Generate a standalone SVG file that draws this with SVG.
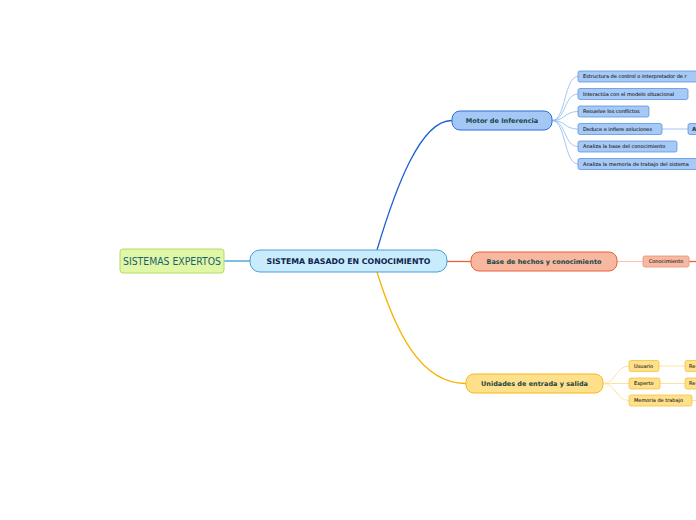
<svg xmlns="http://www.w3.org/2000/svg" width="696" height="520" viewBox="0 0 696 520">
<style>
text{font-family:"DejaVu Sans",Verdana,sans-serif;}
.main{font-size:6.5px;font-weight:bold;fill:#1a4646;}
.sm{font-size:5px;fill:#1a1a1a;stroke:#1a1a1a;stroke-width:0.08;}
.mc{fill:#a6c9f5;stroke:#5b94e0;stroke-width:0.8;}
.bc{fill:#f7b9a3;stroke:#e88f72;stroke-width:0.8;}
.uc{fill:#ffe08c;stroke:#f5c33a;stroke-width:0.8;}
.cm{fill:none;stroke:#8ab8ee;stroke-width:0.8;}
.cu{fill:none;stroke:#ffe4a0;stroke-width:1;}
</style>
<rect width="696" height="520" fill="#ffffff"/>
<g id="connectors" fill="none">
<path d="M224,261 L250,261" stroke="#3a9ad9" stroke-width="1.3"/>
<path d="M377,250 C395,190 420,120 452,120.5" stroke="#1a5fd6" stroke-width="1.3"/>
<path d="M447,261.5 L471,261.5" stroke="#e8603a" stroke-width="1.3"/>
<path d="M377,272 C395,330 420,384 466,383.5" stroke="#f5b400" stroke-width="1.3"/>
<path class="cm" d="M552,120.5 C566,120.5 564,76.5 578,76.5"/>
<path class="cm" d="M552,120.5 C566,120.5 564,94 578,94"/>
<path class="cm" d="M552,120.5 C566,120.5 564,111.5 578,111.5"/>
<path class="cm" d="M552,120.5 C566,120.5 564,129 578,129"/>
<path class="cm" d="M552,120.5 C566,120.5 564,146.5 578,146.5"/>
<path class="cm" d="M552,120.5 C566,120.5 564,164 578,164"/>
<path class="cm" d="M662,129 L688,129"/>
<path d="M617,261.5 L643,261.5" stroke="#f7c2b0" stroke-width="1"/>
<path d="M689,261.5 L696,261.5" stroke="#e8603a" stroke-width="1.3"/>
<path class="cu" d="M603,383.5 C616,383.5 616,366 629,366"/>
<path class="cu" d="M603,383.5 L629,383.5"/>
<path class="cu" d="M603,383.5 C616,383.5 616,400.5 629,400.5"/>
<path class="cu" d="M659,366 L685,366"/>
<path class="cu" d="M660,383.5 L685,383.5"/>
<path class="cu" d="M692,400.5 L696,400.5"/>
</g>
<g id="sistemas-expertos">
<rect x="120" y="249" width="104" height="24" rx="3" fill="#e0f7a6" stroke="#b5d96a" stroke-width="1"/>
<text x="172" y="264.5" text-anchor="middle" font-size="10" fill="#1b6070" textLength="98" lengthAdjust="spacingAndGlyphs">SISTEMAS EXPERTOS</text>
</g>
<g id="sistema-basado">
<rect x="250" y="250" width="197" height="22" rx="10" fill="#c8ecfb" stroke="#4a9fd8" stroke-width="1"/>
<text x="348.5" y="264" text-anchor="middle" font-size="7.8" font-weight="bold" fill="#10234a">SISTEMA BASADO EN CONOCIMIENTO</text>
</g>
<g id="motor">
<rect x="452" y="111" width="100" height="19" rx="8" fill="#a3c8f5" stroke="#2f6fd6" stroke-width="1"/>
<text x="502" y="123" text-anchor="middle" class="main">Motor de Inferencia</text>
</g>
<g id="base">
<rect x="471" y="252" width="146" height="19" rx="8" fill="#f8b8a0" stroke="#e8603a" stroke-width="1"/>
<text x="544" y="264" text-anchor="middle" class="main">Base de hechos y conocimiento</text>
</g>
<g id="unidades">
<rect x="466" y="374" width="137" height="19" rx="8" fill="#ffe08a" stroke="#f5b820" stroke-width="1"/>
<text x="534.5" y="386" text-anchor="middle" class="main">Unidades de entrada y salida</text>
</g>
<g id="m1"><rect class="mc" x="578" y="71" width="130" height="11" rx="2"/><text class="sm" x="583" y="78.3">Estructura de control o interpretador de r</text></g>
<g id="m2"><rect class="mc" x="578" y="88.5" width="110" height="11" rx="2"/><text class="sm" x="583" y="95.8">Interactúa con el modelo situacional</text></g>
<g id="m3"><rect class="mc" x="578" y="106" width="71" height="11" rx="2"/><text class="sm" x="583" y="113.3">Resuelve los conflictos</text></g>
<g id="m4"><rect class="mc" x="578" y="123.5" width="84" height="11" rx="2"/><text class="sm" x="583" y="130.8">Deduce e infiere soluciones</text></g>
<g id="m4a"><rect class="mc" x="688" y="123.5" width="30" height="11" rx="2"/><text x="692" y="131" font-size="5.5" font-weight="bold" fill="#1a3a3a">A</text></g>
<g id="m5"><rect class="mc" x="578" y="141" width="99" height="11" rx="2"/><text class="sm" x="583" y="148.3">Analiza la base del conocimiento</text></g>
<g id="m6"><rect class="mc" x="578" y="158.5" width="130" height="11" rx="2"/><text class="sm" x="583" y="165.8">Analiza la memoria de trabajo del sistema</text></g>
<g id="b1"><rect class="bc" x="643" y="256" width="46" height="11" rx="2"/><text class="sm" x="666" y="263.3" text-anchor="middle">Conocimiento</text></g>
<g id="u1"><rect class="uc" x="629" y="360.5" width="30" height="11" rx="2"/><text class="sm" x="634" y="367.8">Usuario</text></g>
<g id="u1a"><rect class="uc" x="685" y="360.5" width="30" height="11" rx="2"/><text class="sm" x="689" y="367.8">Re</text></g>
<g id="u2"><rect class="uc" x="629" y="378" width="31" height="11" rx="2"/><text class="sm" x="634" y="385.3">Experto</text></g>
<g id="u2a"><rect class="uc" x="685" y="378" width="30" height="11" rx="2"/><text class="sm" x="689" y="385.3">Re</text></g>
<g id="u3"><rect class="uc" x="629" y="395" width="63" height="11" rx="2"/><text class="sm" x="634" y="402.3">Memoria de trabajo</text></g>
</svg>
